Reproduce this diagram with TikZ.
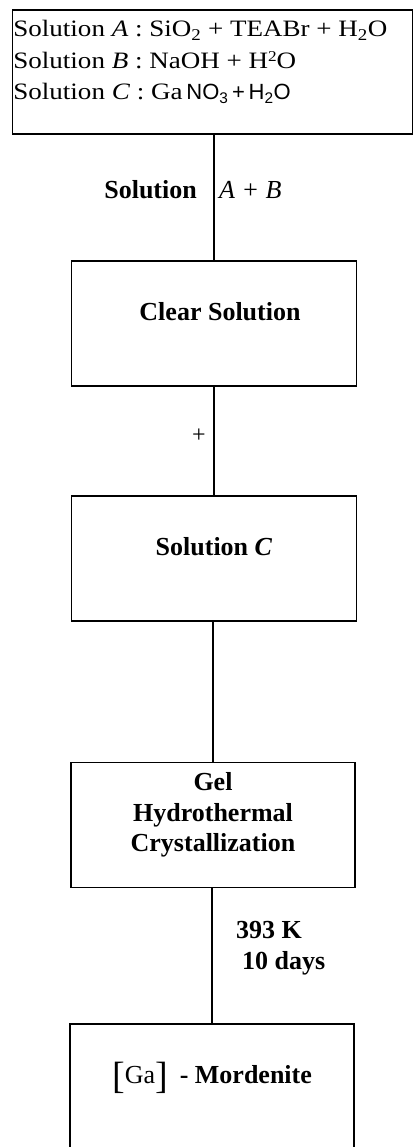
\documentclass[tikz,border=0pt]{standalone}
\usepackage{fontspec}
\setmainfont{Liberation Serif}
\setsansfont{Liberation Sans}
\newfontfamily\widefont[FakeStretch=1.15]{Liberation Serif}
\usetikzlibrary{positioning}

\tikzset{
  stepbox/.style={draw, line width=1.2pt, minimum width=285pt, minimum height=125pt,
                  inner sep=0pt, align=center, text height=18pt, text depth=24pt,
                  font=\fontsize{26}{30.5}\selectfont\bfseries},
  steplabel/.style={inner sep=0pt, font=\fontsize{26}{31}\selectfont\bfseries},
  conn/.style={line width=1.2pt}
}

\begin{document}
\begin{tikzpicture}[x=1pt, y=-1pt]

\useasboundingbox (0,0) rectangle (414,1147);
\clip (0,0) rectangle (414,1147);

% Starting solutions (top box)
\node[draw, line width=1.2pt, minimum width=400pt, minimum height=124pt,
      inner sep=0pt] (mix) at (212.8,72) {};
\node[anchor=north west, inner sep=0pt, align=left,
      font=\widefont\fontsize{23.5}{31.5}\selectfont] (mixtxt)
     at ([xshift=1pt, yshift=-11pt]mix.north west)
     {Solution \textit{A} : SiO\textsubscript{2} + TEABr + H\textsubscript{2}O\\
      Solution \textit{B} : NaOH + H{\fontsize{15}{15}\selectfont\raisebox{7pt}{2}}O\\
      Solution \textit{C} : Ga\,{\sffamily\fontsize{22}{31.5}\selectfont NO\textsubscript{3}\,+\,H\textsubscript{2}O}};

% Process steps
\node[stepbox] (clear) at (214,323.5) {\hspace*{12pt}Clear Solution};
\node[stepbox] (solc) at (214,558.5) {Solution \textit{C}};
\node[stepbox, minimum width=284pt, text height=, text depth=26pt] (gel) at (213,825)
     {Gel\\Hydrothermal\\Crystallization};
\node[stepbox, minimum width=284pt] (mord) at (212,1086.5)
     {\raisebox{-5pt}{\fontsize{38}{38}\selectfont\mdseries[}{\mdseries Ga}\raisebox{-5pt}{\fontsize{38}{38}\selectfont\mdseries]}\hspace{12pt}- Mordenite};

% Connectors
\draw[conn] (clear.north |- mix.south) -- (clear.north);
\draw[conn] (clear.south) -- (solc.north);
\draw[conn] (gel.north |- solc.south) -- (gel.north);
\draw[conn] (mord.north |- gel.south) -- (mord.north);

% Connector labels
\node[steplabel, anchor=east] (lblsol) at (197,190) {Solution};
\node[steplabel, anchor=west, font=\fontsize{26}{31}\selectfont\itshape] (lblab) at (219,190) {A + B};
\node[steplabel, font=\fontsize{24}{31}\selectfont] (lblplus) at (199,436) {+};
\node[steplabel, anchor=west, align=left] (lblcond) at (236,948)
     {393 K\\\hspace*{6pt}10 days};

\end{tikzpicture}
\end{document}
